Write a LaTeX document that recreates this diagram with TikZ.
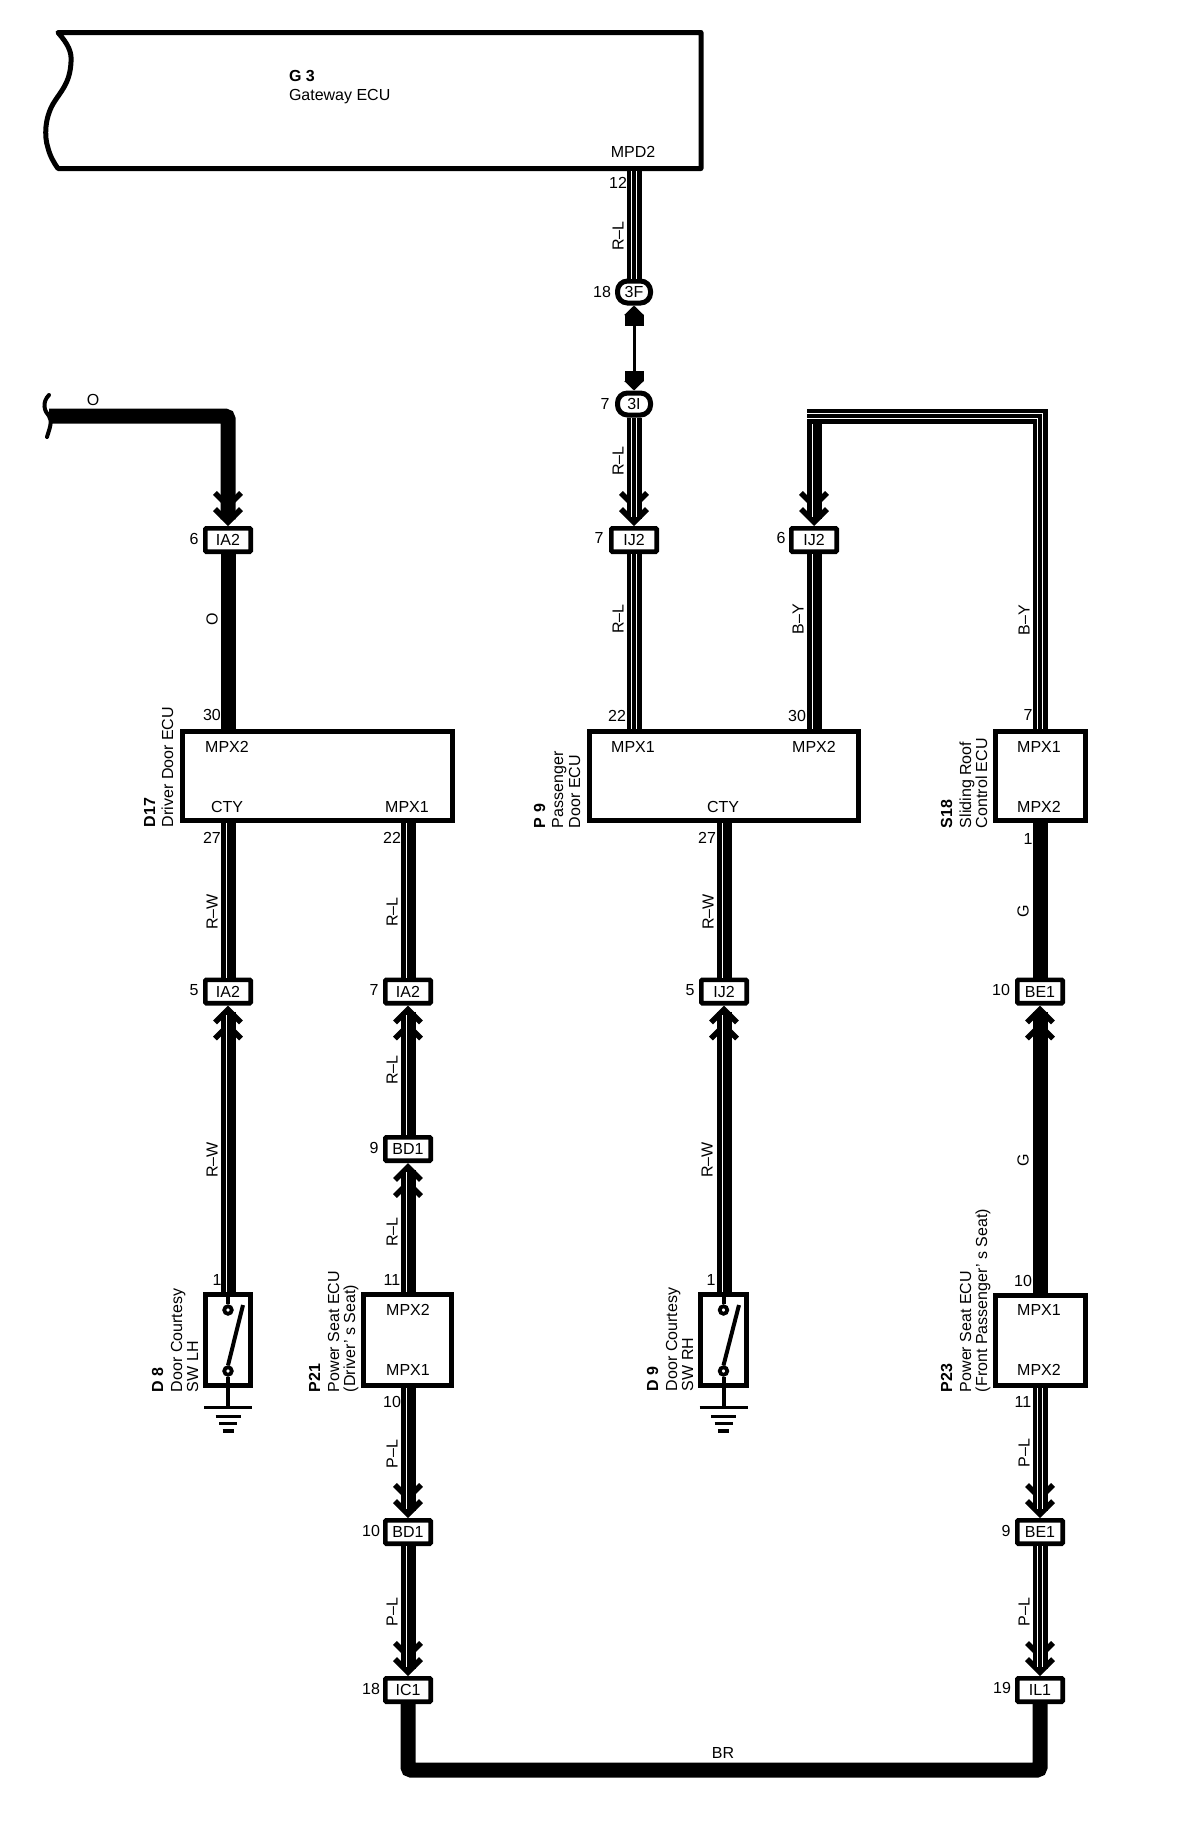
\documentclass[tikz,border=0pt]{standalone}
\usepackage{fontspec}
\setmainfont{Liberation Sans}
\usetikzlibrary{arrows.meta}
\tikzset{
  txt/.style={font=\fontsize{16}{18}\selectfont,inner sep=0pt,outer sep=0pt},
  rtxt/.style={txt,rotate=90},
  side/.style={txt,rotate=90,anchor=base west},
  sideb/.style={side,font=\fontsize{16}{18}\selectfont\bfseries},
  conn/.style={draw=black,fill=white,line width=4.6pt,minimum width=45.4pt,minimum height=23.4pt,inner sep=0pt,rounded corners=1pt,font=\fontsize{16}{18}\selectfont},
  oval/.style={draw=black,fill=white,line width=5pt,minimum width=33pt,minimum height=22pt,inner sep=0pt,rounded corners=10pt,font=\fontsize{16}{18}\selectfont},
  ecu/.style={draw=black,fill=white,line width=5pt,inner sep=0pt},
  wsolid/.style={draw=black,line width=15pt},
  wtri/.style={draw=black,line width=15pt,
    postaction={draw=white,line width=5.6pt,-,shorten >=#1},
    postaction={draw=black,line width=3.2pt,-,shorten >=#1}},
  wtri/.default=0pt,
  wsgl/.style={draw=black,line width=15pt,
    postaction={draw=white,line width=1.4pt,-,shorten >=#1,transform canvas={xshift=-1.5pt}}},
  wsgl/.default=0pt,
  chev/.style={-{Straight Barb[length=13pt,width=26pt,line width=5.5pt,sep=-3.5pt]Straight Barb[length=13pt,width=26pt,line width=5.5pt]}},
  term/.style={circle,draw=black,fill=white,line width=3.8pt,minimum size=7.5pt,inner sep=0pt},
  swline/.style={draw=black,line width=4pt},
  groundsym/.pic={
    \draw[line width=3pt] (-24,0) -- (24,0);
    \draw[line width=3pt] (-12.5,9) -- (12.5,9);
    \draw[line width=3pt] (-9,16) -- (9,16);
    \draw[line width=4pt] (-5.5,24) -- (5.5,24);
  },
}
\begin{document}
\begin{tikzpicture}[x=1pt,y=-1pt]
\useasboundingbox[fill=white] (0,0) rectangle (1184,1826);

% Gateway ECU
\draw[line width=5pt,line join=round] (701,32.5) -- (58,32.5)
  .. controls (68,44) and (72,52) .. (71,62)
  .. controls (70,84) and (60,92) .. (53,104)
  .. controls (45,118) and (44,136) .. (48,148)
  .. controls (50,156) and (54,163) .. (58,168.5)
  -- (701,168.5) -- cycle;
\coordinate (g3port) at (634,171);
\node[txt,anchor=west,font=\fontsize{16}{18}\selectfont\bfseries] (g3id) at (289,76) {G 3};
\node[txt,anchor=west] (g3name) at (289,97) {Gateway ECU};
\node[txt] (g3pin) at (633,152) {MPD2};

% ECU boxes
\node[ecu,minimum width=270pt,minimum height=89pt] (d17) at (317.5,776) {};
\node[ecu,minimum width=269pt,minimum height=89pt] (p9) at (724,776) {};
\node[ecu,minimum width=90pt,minimum height=89pt] (s18) at (1040.5,776) {};
\node[ecu,minimum width=88pt,minimum height=91pt] (p21) at (407.5,1340) {};
\node[ecu,minimum width=90pt,minimum height=90pt] (p23) at (1040.5,1340.5) {};
\node[ecu,minimum width=45pt,minimum height=91pt] (d8) at (228,1340) {};
\node[ecu,minimum width=46pt,minimum height=91pt] (d9) at (723.5,1340) {};

% Connectors
\node[oval] (c3f) at (634,292) {3F};
\node[oval] (c3i) at (634,404) {3I};
\node[conn] (ia2a) at (228,540) {IA2};
\node[conn] (ij2a) at (634,540) {IJ2};
\node[conn] (ij2b) at (814,540) {IJ2};
\node[conn] (ia2b) at (228,991.5) {IA2};
\node[conn] (ia2c) at (408,991.5) {IA2};
\node[conn] (ij2c) at (724,991.5) {IJ2};
\node[conn] (be1a) at (1040,991.5) {BE1};
\node[conn] (bd1a) at (408,1149) {BD1};
\node[conn] (bd1b) at (408,1532) {BD1};
\node[conn] (be1b) at (1040,1532) {BE1};
\node[conn] (ic1) at (408,1690) {IC1};
\node[conn] (il1) at (1040,1690) {IL1};

% Free points of the routed wires
\coordinate (obreak) at (49,416);
\coordinate (ocorner) at (228,416);
\coordinate (bycornerr) at (1040,416);
\coordinate (bycornerl) at (814,416);
\coordinate (brl) at (408,1770);
\coordinate (brr) at (1040,1770);

% Wires
\draw[wtri] (g3port) -- (c3f.north);
\draw[line width=3pt,{Triangle[length=9.5pt,width=19pt,sep=0pt]Rectangle[length=10.5pt,width=19pt]}-{Rectangle[length=10.5pt,width=19pt,sep=0pt]Triangle[length=9.5pt,width=19pt]}] (c3f.south) -- (c3i.north);
\draw[wtri=9pt,chev] (c3i.south) -- (ij2a.north);
\draw[wtri] (ij2a.south) -- (ij2a.south |- p9.north);
\draw[wsolid,chev,rounded corners=3pt] (obreak) -- (ocorner) -- (ia2a.north);
\draw[wsolid] (ia2a.south) -- (ia2a.south |- d17.north);
\draw[wsgl=9pt,chev] (bycornerl) -- (ij2b.north);
\draw[wtri] (s18.north -| bycornerr) -- (bycornerr) -- ([xshift=-7.5pt]bycornerl);
\draw[wsgl] (ij2b.south) -- (ij2b.south |- p9.north);
\draw[wsgl] (ia2b.north |- d17.south) -- (ia2b.north);
\draw[wsgl] (ia2c.north |- d17.south) -- (ia2c.north);
\draw[wsgl] (ij2c.north |- p9.south) -- (ij2c.north);
\draw[wsolid] (be1a.north |- s18.south) -- (be1a.north);
\draw[wsgl=9pt,chev] (ia2b.south |- d8.north) -- (ia2b.south);
\draw[wsgl=9pt,chev] (bd1a.north) -- (ia2c.south);
\draw[wsgl=9pt,chev] (bd1a.south |- p21.north) -- (bd1a.south);
\draw[wsgl=9pt,chev] (ij2c.south |- d9.north) -- (ij2c.south);
\draw[wsolid,chev] (be1a.south |- p23.north) -- (be1a.south);
\draw[wsgl=9pt,chev] (bd1b.north |- p21.south) -- (bd1b.north);
\draw[wsgl=9pt,chev] (bd1b.south) -- (ic1.north);
\draw[wtri=9pt,chev] (be1b.north |- p23.south) -- (be1b.north);
\draw[wtri=9pt,chev] (be1b.south) -- (il1.north);
\draw[wsolid,rounded corners=3pt] (ic1.south) -- (brl) -- (brr) -- (il1.south);

% Wire break
\draw[line width=4pt,line cap=round] (49,395) .. controls (42,402) and (44,411) .. (49,416) .. controls (53,421) and (49,430) .. (47,437);

% Door switches
\node[term] (d8a) at (228,1310) {};
\node[term] (d8b) at (228,1371) {};
\coordinate (d8arm) at (243,1305);
\coordinate (d8g) at (228,1407);
\draw[swline] (d8.north) -- (d8a.north);
\draw[swline] (d8b.south) -- (d8g);
\draw[swline] (d8b.north) -- (d8arm);
\pic at (d8g) {groundsym};
\node[term] (d9a) at (723.5,1310) {};
\node[term] (d9b) at (723.5,1371) {};
\coordinate (d9arm) at (739,1305);
\coordinate (d9g) at (723.5,1407);
\draw[swline] (d9.north) -- (d9a.north);
\draw[swline] (d9b.south) -- (d9g);
\draw[swline] (d9b.north) -- (d9arm);
\pic at (d9g) {groundsym};

% Box pin names
\node[txt] (t1) at (227,747) {MPX2};
\node[txt] (t2) at (227,807) {CTY};
\node[txt] (t3) at (407,807) {MPX1};
\node[txt] (t4) at (633,747) {MPX1};
\node[txt] (t5) at (814,747) {MPX2};
\node[txt] (t6) at (723,807) {CTY};
\node[txt] (t7) at (1039,747) {MPX1};
\node[txt] (t8) at (1039,807) {MPX2};
\node[txt] (t9) at (408,1310) {MPX2};
\node[txt] (t10) at (408,1370) {MPX1};
\node[txt] (t11) at (1039,1310) {MPX1};
\node[txt] (t12) at (1039,1370) {MPX2};

% Pin numbers
\node[txt] (n1) at (618,183) {12};
\node[txt] (n2) at (602,292) {18};
\node[txt] (n3) at (605,404) {7};
\node[txt] (n4) at (599,538) {7};
\node[txt] (n5) at (781,538) {6};
\node[txt] (n6) at (194,539) {6};
\node[txt] (n7) at (212,715) {30};
\node[txt] (n8) at (617,716) {22};
\node[txt] (n9) at (797,716) {30};
\node[txt] (n10) at (1028,715) {7};
\node[txt] (n11) at (212,838) {27};
\node[txt] (n12) at (392,838) {22};
\node[txt] (n13) at (707,838) {27};
\node[txt] (n14) at (1028,839) {1};
\node[txt] (n15) at (194,990) {5};
\node[txt] (n16) at (374,990) {7};
\node[txt] (n17) at (690,990) {5};
\node[txt] (n18) at (1001,990) {10};
\node[txt] (n19) at (374,1148) {9};
\node[txt] (n20) at (217,1280) {1};
\node[txt] (n21) at (392,1280) {11};
\node[txt] (n22) at (711,1280) {1};
\node[txt] (n23) at (1023,1281) {10};
\node[txt] (n24) at (392,1402) {10};
\node[txt] (n25) at (1023,1402) {11};
\node[txt] (n26) at (371,1531) {10};
\node[txt] (n27) at (1006,1531) {9};
\node[txt] (n28) at (371,1689) {18};
\node[txt] (n29) at (1002,1688) {19};

% Wire colour labels
\node[txt] (w1) at (93,400) {O};
\node[txt] (w2) at (723,1753) {BR};
\node[rtxt] (w3) at (212,619) {O};
\node[rtxt] (w4) at (618,236) {R–L};
\node[rtxt] (w5) at (618,461) {R–L};
\node[rtxt] (w6) at (618,619) {R–L};
\node[rtxt] (w7) at (798,619) {B–Y};
\node[rtxt] (w8) at (1024,620) {B–Y};
\node[rtxt] (w9) at (212,912) {R–W};
\node[rtxt] (w10) at (392,912) {R–L};
\node[rtxt] (w11) at (708,912) {R–W};
\node[rtxt] (w12) at (1023,911) {G};
\node[rtxt] (w13) at (392,1070) {R–L};
\node[rtxt] (w14) at (212,1160) {R–W};
\node[rtxt] (w15) at (707,1160) {R–W};
\node[rtxt] (w16) at (1023,1160) {G};
\node[rtxt] (w17) at (392,1232) {R–L};
\node[rtxt] (w18) at (392,1454) {P–L};
\node[rtxt] (w19) at (1024,1453) {P–L};
\node[rtxt] (w20) at (392,1612) {P–L};
\node[rtxt] (w21) at (1024,1612) {P–L};

% Component names
\node[sideb] (s1) at (155,827) {D17};
\node[side] (s2) at (173,827) {Driver Door ECU};
\node[sideb] (s3) at (545,828) {P 9};
\node[side] (s4) at (563,828) {Passenger};
\node[side] (s5) at (580,828) {Door ECU};
\node[sideb] (s6) at (952,828) {S18};
\node[side] (s7) at (971,828) {Sliding Roof};
\node[side] (s8) at (987,828) {Control ECU};
\node[sideb] (s9) at (163,1392) {D 8};
\node[side] (s10) at (182,1392) {Door Courtesy};
\node[side] (s11) at (198,1392) {SW LH};
\node[sideb] (s12) at (320,1392) {P21};
\node[side] (s13) at (339,1392) {Power Seat ECU};
\node[side] (s14) at (355,1392) {(Driver’ s Seat)};
\node[sideb] (s15) at (658,1391) {D 9};
\node[side] (s16) at (677,1391) {Door Courtesy};
\node[side] (s17) at (693,1391) {SW RH};
\node[sideb] (s18t) at (952,1392) {P23};
\node[side] (s19) at (971,1392) {Power Seat ECU};
\node[side] (s20) at (987,1392) {(Front Passenger’ s Seat)};
\end{tikzpicture}
\end{document}
